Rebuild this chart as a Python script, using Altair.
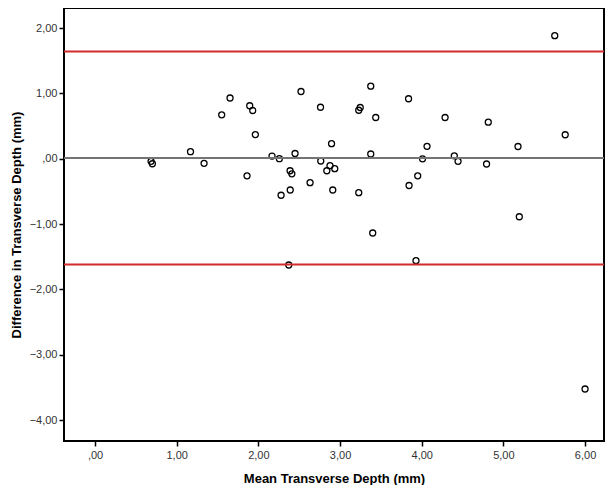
import altair as alt
import pandas as pd

# Bland-Altman data: mean of two measurements vs. their difference (mm)
mean_depth = [0.686, 0.702, 1.169, 1.335, 1.551, 1.653, 1.861, 1.894, 1.931, 1.963,
              2.167, 2.257, 2.278, 2.388, 2.390, 2.410, 2.449, 2.522, 2.633, 2.761,
              2.764, 2.896, 2.877, 2.838, 2.935, 2.911, 3.229, 3.376, 3.229, 3.247,
              3.437, 3.376, 3.400, 3.839, 4.065, 4.010, 3.951, 3.845, 4.286, 4.399,
              4.445, 4.815, 4.794, 5.179, 5.195, 5.629, 5.757, 2.372, 3.930, 6.000]
diff_depth = [-0.040, -0.077, 0.107, -0.070, 0.672, 0.929, -0.262, 0.811, 0.738, 0.370,
              0.041, 0.000, -0.559, -0.184, -0.479, -0.231, 0.080, 1.029, -0.367, 0.788,
              -0.035, 0.230, -0.107, -0.184, -0.153, -0.479, -0.520, 1.110, 0.742, 0.784,
              0.631, 0.072, -1.137, 0.918, 0.190, -0.002, -0.262, -0.410, 0.631, 0.044,
              -0.040, 0.559, -0.081, 0.187, -0.888, 1.883, 0.367, -1.627, -1.561, -3.525]

mean_line = [0.01]
limits = [1.64, -1.62]
x_ticks = [0, 1, 2, 3, 4, 5, 6]
y_ticks = [-4, -3, -2, -1, 0, 1, 2]

df = pd.DataFrame({"mean": mean_depth, "diff": diff_depth})
df_mean = pd.DataFrame({"diff": mean_line})
df_lim = pd.DataFrame({"diff": limits})

label_expr = "datum.value == 0 ? ',00' : replace(format(datum.value, '.2f'), '.', ',')"

xscale = alt.Scale(domain=[-0.380, 6.232], nice=False, zero=False)
yscale = alt.Scale(domain=[-4.321, 2.307], nice=False, zero=False)

yaxis = alt.Axis(title="Difference in Transverse Depth (mm)", values=y_ticks,
                 labelExpr=label_expr, labelPadding=2, titlePadding=6)

points = alt.Chart(df).mark_point(
    shape="circle", filled=False, color="black", size=36, strokeWidth=1.3, opacity=1
).encode(
    x=alt.X("mean:Q", scale=xscale,
            axis=alt.Axis(title="Mean Transverse Depth (mm)", values=x_ticks,
                          labelExpr=label_expr, labelPadding=3, titlePadding=12)),
    y=alt.Y("diff:Q", scale=yscale, axis=yaxis),
)

mean_rule = alt.Chart(df_mean).mark_rule(color="#747474", strokeWidth=2).encode(
    y=alt.Y("diff:Q", scale=yscale, axis=yaxis)
)
lim_rule = alt.Chart(df_lim).mark_rule(color="#d42a2a", strokeWidth=2).encode(
    y=alt.Y("diff:Q", scale=yscale, axis=yaxis)
)

chart = alt.layer(points, mean_rule, lim_rule).properties(
    width=540, height=433,
    autosize=alt.AutoSizeParams(type="none"),
    padding={"left": 56, "top": 0, "right": 1, "bottom": 44},
).configure_view(
    stroke="black", strokeWidth=2
).configure_axis(
    grid=False, domain=False,
    tickColor="black", tickSize=5, tickWidth=1.5,
    labelFont="Liberation Sans", labelFontSize=11, labelColor="#333333",
    titleFont="Liberation Sans", titleFontSize=13, titleFontWeight="bold",
    titleColor="black",
)

chart.save("out.html", embed_options={"renderer": "svg", "actions": False})
